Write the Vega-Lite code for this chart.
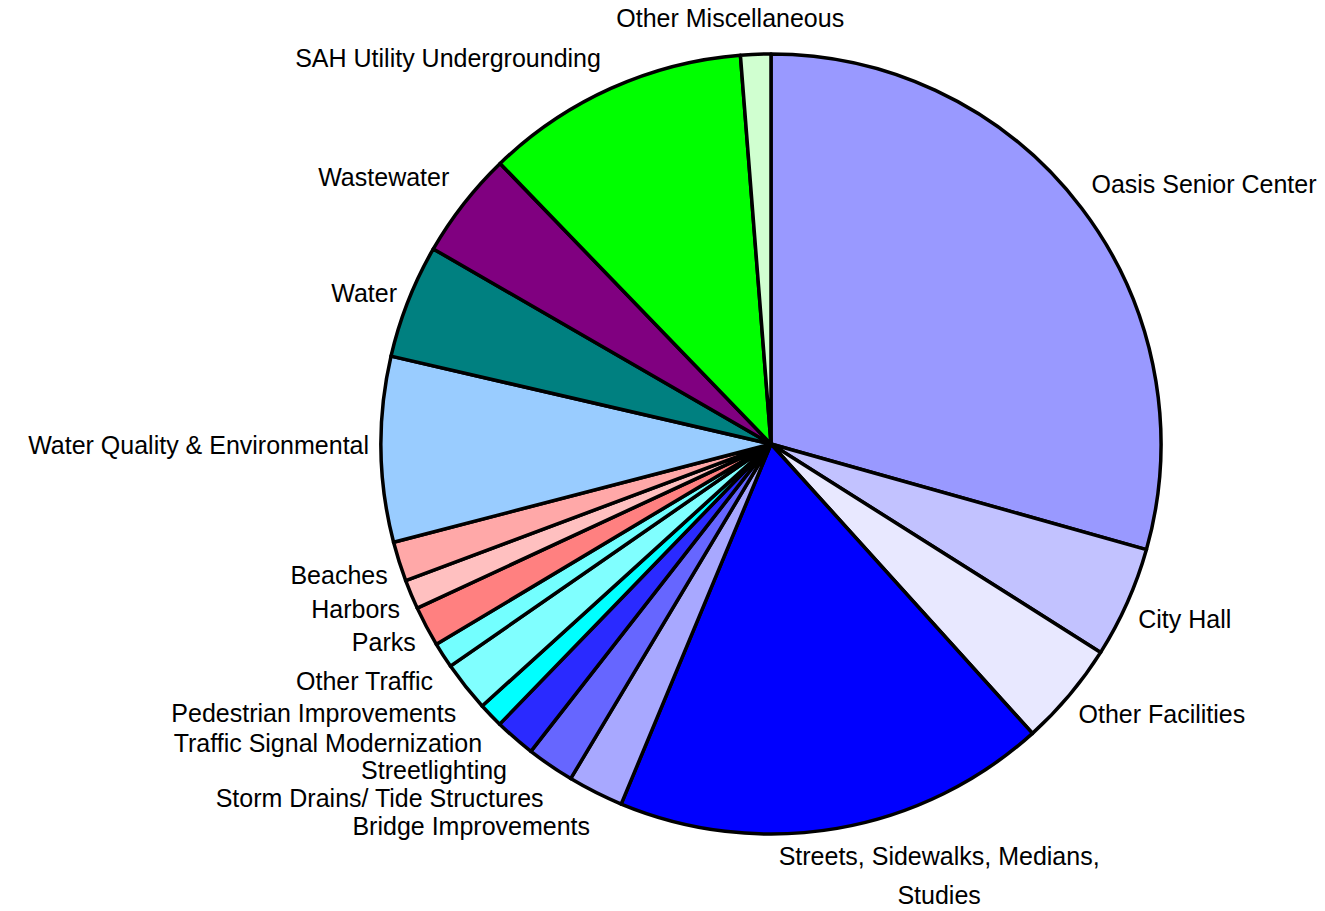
{
  "$schema": "https://vega.github.io/schema/vega-lite/v6.json",
  "width": 780,
  "height": 780,
  "autosize": {"type": "none"},
  "padding": {"left": 381, "top": 54, "right": 164, "bottom": 77},
  "background": "white",
  "view": {"stroke": null},
  "config": {"text": {"font": "Liberation Sans", "fontSize": 25, "color": "black"}},
  "data": {
    "values": [
      {"idx": 1, "category": "Oasis Senior Center", "value": 29.36},
      {"idx": 2, "category": "City Hall", "value": 4.61},
      {"idx": 3, "category": "Other Facilities", "value": 4.33},
      {"idx": 4, "category": "Streets, Sidewalks, Medians,\nStudies", "value": 17.97},
      {"idx": 5, "category": "Bridge Improvements", "value": 2.31},
      {"idx": 6, "category": "Storm Drains/ Tide Structures", "value": 1.97},
      {"idx": 7, "category": "Streetlighting", "value": 1.69},
      {"idx": 8, "category": "Traffic Signal Modernization", "value": 1.03},
      {"idx": 9, "category": "Pedestrian Improvements", "value": 2.08},
      {"idx": 10, "category": "Other Traffic", "value": 1.06},
      {"idx": 11, "category": "Parks", "value": 1.67},
      {"idx": 12, "category": "Harbors", "value": 1.22},
      {"idx": 13, "category": "Beaches", "value": 1.64},
      {"idx": 14, "category": "Water Quality & Environmental", "value": 7.67},
      {"idx": 15, "category": "Water", "value": 4.72},
      {"idx": 16, "category": "Wastewater", "value": 4.44},
      {"idx": 17, "category": "SAH Utility Undergrounding", "value": 10.97},
      {"idx": 18, "category": "Other Miscellaneous", "value": 1.25}
    ]
  },
  "encoding": {
    "theta": {"field": "value", "type": "quantitative", "stack": true},
    "order": {"field": "idx", "type": "quantitative", "sort": "ascending"},
    "detail": {"field": "category", "type": "nominal"}
  },
  "layer": [
    {
      "mark": {"type": "arc", "radius": 390, "stroke": "black", "strokeWidth": 3.5, "strokeJoin": "round"},
      "encoding": {
        "color": {
          "field": "category",
          "type": "nominal",
          "legend": null,
          "scale": {
            "domain": ["Oasis Senior Center", "City Hall", "Other Facilities", "Streets, Sidewalks, Medians,\nStudies", "Bridge Improvements", "Storm Drains/ Tide Structures", "Streetlighting", "Traffic Signal Modernization", "Pedestrian Improvements", "Other Traffic", "Parks", "Harbors", "Beaches", "Water Quality & Environmental", "Water", "Wastewater", "SAH Utility Undergrounding", "Other Miscellaneous"],
            "range": ["#9999ff", "#c2c2ff", "#e8e8ff", "#0000ff", "#a8a8ff", "#6666ff", "#2a2aff", "#00ffff", "#80ffff", "#73ffff", "#ff8080", "#ffc0c0", "#ffa8a8", "#99ccff", "#008080", "#800080", "#00ff00", "#d0ffd0"]
          }
        }
      }
    },
    {
      "mark": {"type": "text", "radius": 402, "align": "right", "baseline": "middle", "dy": 24},
      "encoding": {"text": {"condition": {"test": "datum.idx == 5", "field": "category"}, "value": ""}}
    },
    {
      "mark": {"type": "text", "radius": 402, "align": "right", "baseline": "middle", "dy": 24},
      "encoding": {"text": {"condition": {"test": "indexof([6,7], datum.idx) >= 0", "field": "category"}, "value": ""}}
    },
    {
      "mark": {"type": "text", "radius": 402, "align": "right", "baseline": "middle", "dy": 20},
      "encoding": {"text": {"condition": {"test": "indexof([8,9,10], datum.idx) >= 0", "field": "category"}, "value": ""}}
    },
    {
      "mark": {"type": "text", "radius": 402, "align": "right", "baseline": "middle", "dy": 11},
      "encoding": {"text": {"condition": {"test": "indexof([11,12,13], datum.idx) >= 0", "field": "category"}, "value": ""}}
    },
    {
      "mark": {"type": "text", "radius": 402, "align": "right", "baseline": "middle", "dy": -3},
      "encoding": {"text": {"condition": {"test": "indexof([14,15], datum.idx) >= 0", "field": "category"}, "value": ""}}
    },
    {
      "mark": {"type": "text", "radius": 402, "align": "right", "baseline": "middle", "dy": -18, "dx": -5},
      "encoding": {"text": {"condition": {"test": "indexof([16,17], datum.idx) >= 0", "field": "category"}, "value": ""}}
    },
    {
      "mark": {"type": "text", "radius": 402, "align": "left", "baseline": "middle", "dy": -16},
      "encoding": {"text": {"condition": {"test": "datum.idx == 1", "field": "category"}, "value": ""}}
    },
    {
      "mark": {"type": "text", "radius": 402, "align": "left", "baseline": "middle", "dy": 12},
      "encoding": {"text": {"condition": {"test": "indexof([2,3], datum.idx) >= 0", "field": "category"}, "value": ""}}
    },
    {
      "mark": {"type": "text", "radius": 402, "align": "center", "baseline": "middle", "dx": -25, "dy": -23},
      "encoding": {"text": {"condition": {"test": "datum.idx == 18", "field": "category"}, "value": ""}}
    },
    {
      "mark": {"type": "text", "radius": 402, "align": "center", "baseline": "top", "dx": 100, "dy": 5, "lineBreak": "\n", "lineHeight": 39},
      "encoding": {"text": {"condition": {"test": "datum.idx == 4", "field": "category"}, "value": ""}}
    }
  ]
}
